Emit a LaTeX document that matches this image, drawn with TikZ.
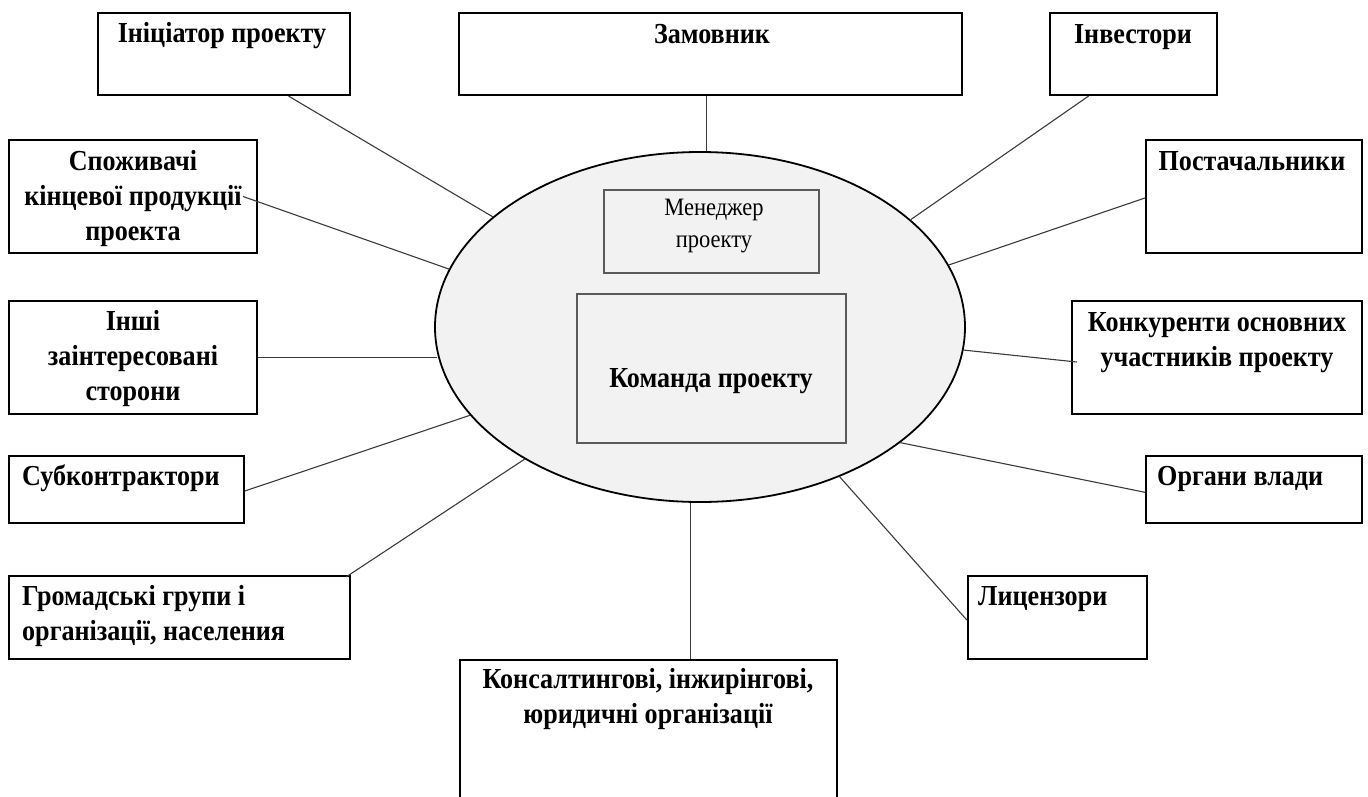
\documentclass[tikz,border=0pt]{standalone}
\usepackage{fontspec}
\setmainfont{Liberation Serif}[FakeStretch=0.9]
\usetikzlibrary{shapes.geometric,calc}
\definecolor{ellfill}{HTML}{F2F2F2}
\definecolor{conn}{HTML}{3A3A3A}
\definecolor{innerline}{HTML}{5A5A5A}
\tikzset{
  box/.style={draw=black, line width=2.2pt, fill=white, inner sep=0pt},
  ibox/.style={draw=innerline, line width=1.3pt, fill=ellfill, inner sep=0pt},
  lbl/.style={font=\fontsize{29}{35}\selectfont\bfseries, inner sep=0pt, align=center, anchor=base},
  lbll/.style={font=\fontsize{29}{35}\selectfont\bfseries, inner sep=0pt, align=left, anchor=base west},
  mlbl/.style={font=\fontsize{25}{32}\selectfont, inner sep=0pt, align=center, anchor=base},
  link/.style={draw=conn, line width=1.1pt}
}
\newcommand\boxat[6]{\node[#6, minimum width={#4-#2}, minimum height={#5-#3}] (#1) at ({(#2+#4)/2},{(#3+#5)/2}) {};}
\begin{document}
\begin{tikzpicture}[x=1pt,y=-1pt]
\useasboundingbox (0,0) rectangle (1368,796);
% boxes
\boxat{ini}{98}{13}{350}{95}{box}
\boxat{zam}{459}{13}{962}{95}{box}
\boxat{inv}{1050}{13}{1217}{95}{box}
\boxat{spo}{9}{140}{257}{253}{box}
\boxat{post}{1146}{140}{1362}{253}{box}
\boxat{insh}{9}{301}{257}{414}{box}
\boxat{konk}{1072}{301}{1362}{414}{box}
\boxat{sub}{9}{456}{244}{523}{box}
\boxat{org}{1146}{456}{1362}{523}{box}
\boxat{hrom}{9}{576}{350}{659}{box}
\boxat{lyts}{968}{576}{1147}{659}{box}
\node[box, minimum width=377, minimum height=160, anchor=north west] (kons) at (459,659) {};
% ellipse
\node[ellipse, draw=black, line width=1.8pt, fill=ellfill, minimum width=530, minimum height=350, inner sep=0pt] (ell) at (700,327) {};
\boxat{men}{604}{190}{819}{273}{ibox}
\boxat{kom}{577}{294}{846}{443}{ibox}
% texts (anchor at baseline of last line)
\node[lbl] (tini) at (222,42) {Ініціатор проекту};
\node[lbl] (tzam) at (712,43) {Замовник};
\node[lbl] (tinv) at (1133,43) {Інвестори};
\node[lbl] (tpost) at (1252,170) {Постачальники};
\node[lbl] (tspo) at (133,240) {Споживачі\\кінцевої продукції\\проекта};
\node[lbl] (tinsh) at (133,400) {Інші\\заінтересовані\\сторони};
\node[lbl] (tkonk) at (1217,366) {Конкуренти основних\\участників проекту};
\node[lbll] (tsub) at (22,485) {Субконтрактори};
\node[lbll] (torg) at (1157,485) {Органи влади};
\node[lbll] (throm) at (22,640) {Громадські групи і\\організації, населения};
\node[lbll] (tlyts) at (978,605) {Лицензори};
\node[lbl] (tkons) at (648,723) {Консалтингові, інжирінгові,\\юридичні організації};
\node[lbl] (tkom) at (711,387) {Команда проекту};
\node[mlbl] (tmen) at (714,247) {Менеджер\\проекту};
% connectors
\draw[link] ($(ini.south west)!0.754!(ini.south east)$) -- (ell.152);
\draw[link] (ell.88) -- (ell.88 |- zam.south);
\draw[link] ($(inv.south west)!0.234!(inv.south east)$) -- (ell.27);
\draw[link] ($(post.north west)!0.513!(post.south west)$) -- (ell.14);
\draw[link] ([xshift=-15pt]spo.east) -- (ell.167);
\draw[link] (insh.east) -- (insh.east -| ell.186);
\draw[link] ($(sub.north east)!0.52!(sub.south east)$) -- (ell.201);
\draw[link] ([xshift=-5pt,yshift=-2pt]hrom.north east) -- (ell.217);
\draw[link] (ell.267) -- (ell.267 |- kons.north);
\draw[link] ($(lyts.north west)!0.53!(lyts.south west)$) -- (ell.313);
\draw[link] ($(org.north west)!0.54!(org.south west)$) -- (ell.330);
\draw[link] ([xshift=6pt,yshift=-4.5pt]konk.west) -- (ell.355);
\end{tikzpicture}
\end{document}
